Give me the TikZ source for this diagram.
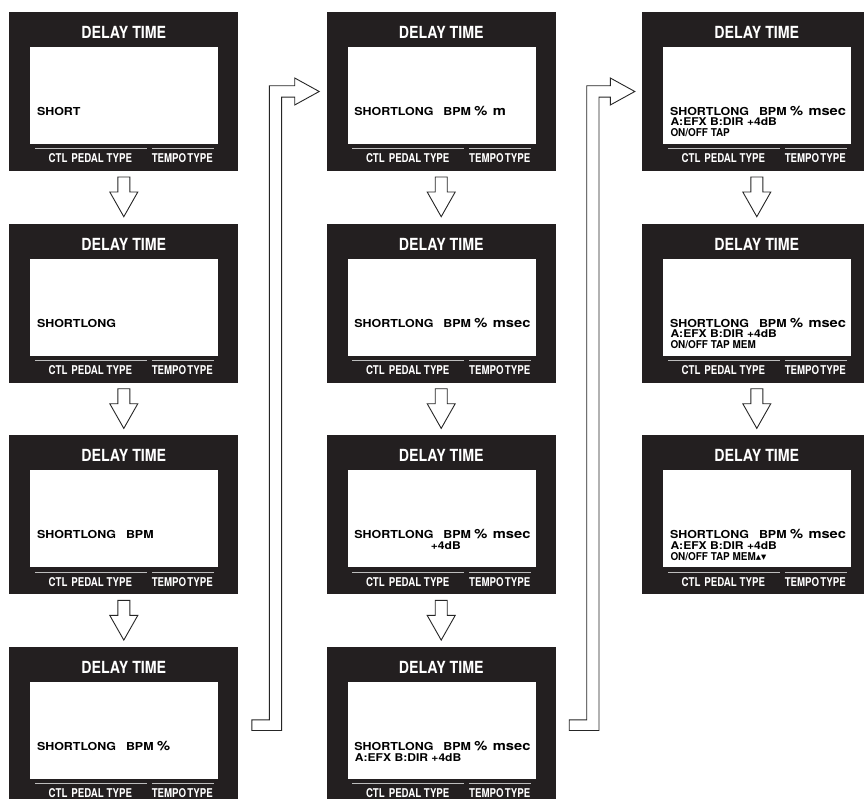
\documentclass[tikz,border=0pt]{standalone}
\usepackage{fontspec}
\setmainfont{TeX Gyre Heros}
\newfontfamily\hvw[FakeStretch=1.13]{TeX Gyre Heros}
\newfontfamily\hvt[FakeStretch=0.85]{TeX Gyre Heros}
\newfontfamily\hvl[FakeStretch=0.8]{TeX Gyre Heros}
\newfontfamily\hvn[FakeStretch=0.92]{TeX Gyre Heros}
\newfontfamily\dvs{DejaVu Sans}
\usetikzlibrary{calc}
\definecolor{panelblk}{HTML}{231F20}
\definecolor{sepgray}{HTML}{BDBDBD}
\tikzset{
 panel/.style={fill=panelblk, minimum width=229pt, minimum height=159pt, inner sep=0pt, outer sep=0pt, draw=none},
 ptitle/.style={inner sep=0pt, anchor=base, text=white, font=\hvt\bfseries\fontsize{16.7}{17}\selectfont},
 plab/.style={inner sep=0pt, anchor=base, text=white, font=\hvl\bfseries\fontsize{12.1}{12}\selectfont},
 sepline/.style={draw=sepgray, line width=1pt},
 tA/.style={inner sep=0pt, anchor=base west, font=\hvw\bfseries\fontsize{11}{11}\selectfont},
 tAbig/.style={inner sep=0pt, anchor=base west, font=\hvw\bfseries\fontsize{13}{13}\selectfont},
 tB/.style={inner sep=0pt, anchor=base west, font=\hvw\bfseries\fontsize{10.7}{11}\selectfont},
 tC/.style={inner sep=0pt, anchor=base west, font=\hvn\bfseries\fontsize{10.8}{11}\selectfont},
 blockarrow/.style={fill=white, draw=black!85, line width=0.9pt, line join=miter},
}
% panel: name, x, y, content
\newcommand\dpanel[4]{%
  \node[panel] (#1) at (#2,#3) {};
  \begin{scope}[shift={(#1.north west)}]
    \fill[white] (21,35) rectangle (209,132);
    \node[ptitle] (#1-title) at (114.5,26.4) {DELAY TIME};
    \draw[sepline] (25.5,136.7) -- (137.5,136.7);
    \draw[sepline] (142.5,136.7) -- (204.5,136.7);
    \node[plab] (#1-ctl) at (81,150.6) {CTL\hspace{4pt}PEDAL TYPE};
    \node[plab] (#1-tempo) at (173,150.6) {TEMPO\hspace{1.2pt}TYPE};
    #4
  \end{scope}}
% line 1 pieces
\newcommand\lineone[2]{%
  \node[tA] (#1-a) at (27.5,103.5) {SHORTLONG};
  \node[tA] (#1-b) at (116.5,103.5) {BPM};
  \node[tAbig] (#1-c) at (147.5,103.5) {\%};
  \node[tAbig] (#1-d) at (166,103.5) {#2};}
% down arrow from panel #1 to panel #2
\newcommand\dnarrow[2]{%
  \draw[blockarrow] ($(#1.south)+(-6,6)$) -- ($(#1.south)+(6,6)$) -- ($(#1.south)+(6,21)$)
    -- ($(#1.south)+(14,21)$) -- ($(#2.north)+(0,-7)$) -- ($(#1.south)+(-14,21)$)
    -- ($(#1.south)+(-6,21)$) -- cycle;}
% L-shaped connector from panel #1 to panel #2, prefix #3
\newcommand\lconn[3]{%
  \coordinate (#3a) at ($(#1.north east)+(13.5,72.7)$);
  \coordinate (#3b) at ($(#1.north east)+(31,72.7)$);
  \coordinate (#3c) at ($(#1.north east)+(43.3,83.4)$);
  \coordinate (#3d) at ($(#1.north east)+(13.5,83.4)$);
  \coordinate (#3s) at ($(#2.west)+(-32,0)$);
  \coordinate (#3t) at ($(#2.west)+(-7.5,0)$);
  \coordinate (#3su) at ($(#3s)+(0,-5.7)$);
  \coordinate (#3sd) at ($(#3s)+(0,5.7)$);
  \coordinate (#3hu) at ($(#3s)+(0,-13.5)$);
  \coordinate (#3hd) at ($(#3s)+(0,13.5)$);
  \draw[blockarrow] (#3a) -- (#3b) -- (#3b |- #3su) -- (#3su) -- (#3hu) -- (#3t)
    -- (#3hd) -- (#3sd) -- (#3c |- #3sd) -- (#3c) -- (#3d) -- cycle;}
\begin{document}
\begin{tikzpicture}[x=1pt,y=-1pt]
\useasboundingbox (0,0) rectangle (864,799);
\clip (0,0) rectangle (864,799);
\fill[white] (0,0) rectangle (864,799);
% column 1
\dpanel{p11}{123.8}{91.5}{\node[tA] (p11-a) at (27.5,103.5) {SHORT};}
\dpanel{p12}{123.8}{303.2}{\node[tA] (p12-a) at (27.5,103.5) {SHORTLONG};}
\dpanel{p13}{123.8}{514.9}{\node[tA] (p13-a) at (27.5,103.5) {SHORTLONG};
  \node[tA] (p13-b) at (116.5,103.5) {BPM};}
\dpanel{p14}{123.8}{726.6}{\node[tA] (p14-a) at (27.5,103.5) {SHORTLONG};
  \node[tA] (p14-b) at (116.5,103.5) {BPM};
  \node[tAbig] (p14-c) at (147.5,103.5) {\%};}
% column 2
\dpanel{p21}{441.2}{91.5}{\lineone{p21}{m}}
\dpanel{p22}{441.2}{303.2}{\lineone{p22}{msec}}
\dpanel{p23}{441.2}{514.9}{\lineone{p23}{msec}
  \node[tB] (p23-e) at (104,114) {+4dB};}
\dpanel{p24}{441.2}{726.6}{\lineone{p24}{msec}
  \node[tB] (p24-e) at (28,114) {A:EFX B:DIR +4dB};}
% column 3
\dpanel{p31}{756.8}{91.5}{\lineone{p31}{msec}
  \node[tB] (p31-e) at (28,114) {A:EFX B:DIR +4dB};
  \node[tC] (p31-f) at (28,124.9) {ON/OFF TAP};}
\dpanel{p32}{756.8}{303.2}{\lineone{p32}{msec}
  \node[tB] (p32-e) at (28,114) {A:EFX B:DIR +4dB};
  \node[tC] (p32-f) at (28,124.9) {ON/OFF TAP MEM};}
\dpanel{p33}{756.8}{514.9}{\lineone{p33}{msec}
  \node[tB] (p33-e) at (28,114) {A:EFX B:DIR +4dB};
  \node[tC] (p33-f) at (28,124.9) {ON/OFF TAP MEM\raisebox{0.6pt}{\dvs\fontsize{6.8}{7}\selectfont ▲▼}};}
% arrows
\dnarrow{p11}{p12}
\dnarrow{p12}{p13}
\dnarrow{p13}{p14}
\dnarrow{p21}{p22}
\dnarrow{p22}{p23}
\dnarrow{p23}{p24}
\dnarrow{p31}{p32}
\dnarrow{p32}{p33}
\lconn{p14}{p21}{ca}
\lconn{p24}{p31}{cb}
\end{tikzpicture}
\end{document}
